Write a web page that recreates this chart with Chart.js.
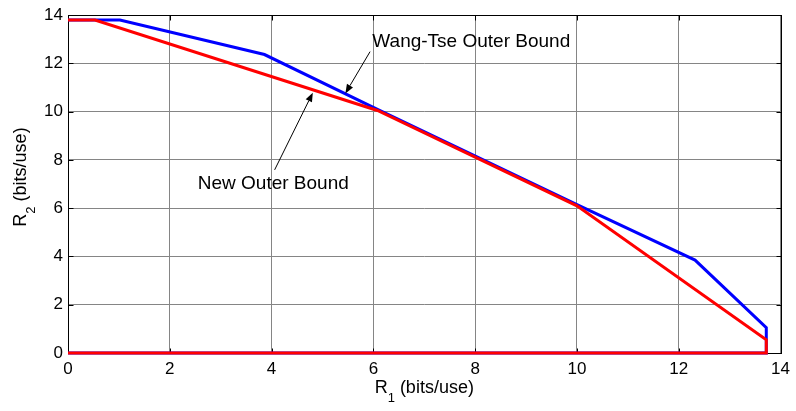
<!DOCTYPE html>
<html>
<head>
<meta charset="utf-8">
<script src="https://cdn.jsdelivr.net/npm/chart.js@4/dist/chart.umd.min.js"></script>
<style>
  html, body { margin: 0; padding: 0; background: #ffffff; }
  #wrap { width: 796px; height: 411px; }
</style>
</head>
<body>
<div id="wrap"><canvas id="c" width="796" height="411"></canvas></div>
<script>
// Rate-region corner points (R1, R2) in bits/use, each closed along the R1 axis.
const wangTseR1 = [0, 1.02, 3.86, 6.08, 10.0, 12.32, 13.72, 13.72, 0];
const wangTseR2 = [13.8, 13.8, 12.37, 10.1, 6.15, 3.85, 1.05, 0, 0];
const newBoundR1 = [0, 0.53, 6.08, 10.0, 13.72, 13.72, 0];
const newBoundR2 = [13.8, 13.8, 10.05, 6.1, 0.55, 0, 0];

// Axis ticks
const r1Ticks = [0, 2, 4, 6, 8, 10, 12, 14];
const r2Ticks = [0, 2, 4, 6, 8, 10, 12, 14];

// Callout text: [label, text x, text baseline y, arrow tail x, tail y, arrow tip x, tip y]
const callouts = [
  ['Wang-Tse Outer Bound', 5.98, 12.7, 5.935, 12.49, 5.45, 10.76],
  ['New Outer Bound', 2.55, 6.8, 4.06, 7.59, 4.81, 10.79]
];

const FONT = '"Liberation Sans", Arial, Helvetica, sans-serif';

function toPoints(xs, ys) {
  return xs.map((x, i) => ({ x: x, y: ys[i] }));
}

// Frame box with inward tick marks on all four sides
const framePlugin = {
  id: 'frame',
  beforeDatasetsDraw(chart) {
    const ctx = chart.ctx;
    const a = chart.chartArea;
    const xs = chart.scales.x, ys = chart.scales.y;
    const L = Math.round(a.left) + 0.5, R = Math.round(a.right) + 0.5;
    const T = Math.round(a.top) + 0.5, B = Math.round(a.bottom) + 0.5;
    ctx.save();
    ctx.strokeStyle = '#000';
    ctx.lineWidth = 1;
    ctx.beginPath();
    const tl = 5;
    r1Ticks.forEach(v => {
      const px = Math.round(xs.getPixelForValue(v)) + 0.5;
      ctx.moveTo(px, B); ctx.lineTo(px, B - tl);
      ctx.moveTo(px, T); ctx.lineTo(px, T + tl);
    });
    r2Ticks.forEach(v => {
      const py = Math.round(ys.getPixelForValue(v)) + 0.5;
      ctx.moveTo(L, py); ctx.lineTo(L + tl, py);
      ctx.moveTo(R, py); ctx.lineTo(R - tl, py);
    });
    ctx.stroke();
    ctx.strokeRect(L, T, R - L, B - T);
    ctx.restore();
  }
};

// Axis titles with subscripts, plus the arrow callouts
const labelPlugin = {
  id: 'labels',
  afterDatasetsDraw(chart) {
    const ctx = chart.ctx;
    const a = chart.chartArea;
    const xs = chart.scales.x, ys = chart.scales.y;
    ctx.save();
    ctx.fillStyle = '#000';
    ctx.strokeStyle = '#000';
    ctx.textBaseline = 'alphabetic';

    function subscriptLabel(main, sub, rest) {
      const big = '18px ' + FONT, small = '13px ' + FONT;
      ctx.font = big; const w1 = ctx.measureText(main).width;
      ctx.font = small; const w2 = ctx.measureText(sub).width;
      ctx.font = big; const w3 = ctx.measureText(rest).width;
      const total = w1 + w2 + w3;
      return { total, draw(x0, y0) {
        ctx.font = big; ctx.fillText(main, x0, y0);
        ctx.font = small; ctx.fillText(sub, x0 + w1, y0 + 9);
        ctx.font = big; ctx.fillText(rest, x0 + w1 + w2, y0);
      }};
    }

    // R1 axis title
    const xl = subscriptLabel('R', '1', ' (bits/use)');
    const cx = (a.left + a.right) / 2;
    xl.draw(cx - xl.total / 2, 393);

    // R2 axis title (rotated)
    const yl = subscriptLabel('R', '2', ' (bits/use)');
    ctx.save();
    ctx.translate(26, 177);
    ctx.rotate(-Math.PI / 2);
    yl.draw(-yl.total / 2, 0);
    ctx.restore();

    // Callouts
    callouts.forEach(([text, tx, ty, x0, y0, x1, y1]) => {
      ctx.font = '19px ' + FONT;
      ctx.fillText(text, xs.getPixelForValue(tx), ys.getPixelForValue(ty));
      const px0 = xs.getPixelForValue(x0), py0 = ys.getPixelForValue(y0);
      const px1 = xs.getPixelForValue(x1), py1 = ys.getPixelForValue(y1);
      const ang = Math.atan2(py1 - py0, px1 - px0);
      const hl = 9, hw = 3.5;
      const bx = px1 - hl * Math.cos(ang), by = py1 - hl * Math.sin(ang);
      ctx.lineWidth = 1;
      ctx.beginPath();
      ctx.moveTo(px0, py0); ctx.lineTo(bx, by);
      ctx.stroke();
      ctx.beginPath();
      ctx.moveTo(px1, py1);
      ctx.lineTo(bx + hw * Math.sin(ang), by - hw * Math.cos(ang));
      ctx.lineTo(bx - hw * Math.sin(ang), by + hw * Math.cos(ang));
      ctx.closePath();
      ctx.fill();
    });
    ctx.restore();
  }
};

// Chart.js paints the first dataset on top, so the new bound comes first.
new Chart(document.getElementById('c'), {
  type: 'scatter',
  data: {
    datasets: [
      {
        label: 'New Outer Bound',
        data: toPoints(newBoundR1, newBoundR2),
        showLine: true,
        borderColor: '#ff0000',
        borderWidth: 3,
        pointRadius: 0,
        tension: 0,
        fill: false,
        clip: false
      },
      {
        label: 'Wang-Tse Outer Bound',
        data: toPoints(wangTseR1, wangTseR2),
        showLine: true,
        borderColor: '#0000ff',
        borderWidth: 3,
        pointRadius: 0,
        tension: 0,
        fill: false,
        clip: false
      }
    ]
  },
  options: {
    responsive: false,
    animation: false,
    events: [],
    layout: { padding: { top: 12, right: 14, left: 0, bottom: 0 } },
    plugins: { legend: { display: false }, tooltip: { enabled: false } },
    scales: {
      x: {
        type: 'linear',
        min: 0, max: 14,
        afterFit(s) { s.height = 58; },
        afterBuildTicks(s) { s.ticks = r1Ticks.map(v => ({ value: v })); },
        grid: { color: '#858585', lineWidth: 1, drawTicks: false },
        border: { display: false },
        ticks: {
          padding: 6,
          color: '#000',
          font: { family: FONT, size: 17 },
          maxRotation: 0,
          autoSkip: false
        }
      },
      y: {
        type: 'linear',
        min: 0, max: 14,
        afterFit(s) { s.width = 68; },
        afterBuildTicks(s) { s.ticks = r2Ticks.map(v => ({ value: v })); },
        grid: { color: '#858585', lineWidth: 1, drawTicks: false },
        border: { display: false },
        ticks: {
          padding: 5,
          color: '#000',
          font: { family: FONT, size: 17 },
          autoSkip: false
        }
      }
    }
  },
  plugins: [framePlugin, labelPlugin]
});
</script>
</body>
</html>
